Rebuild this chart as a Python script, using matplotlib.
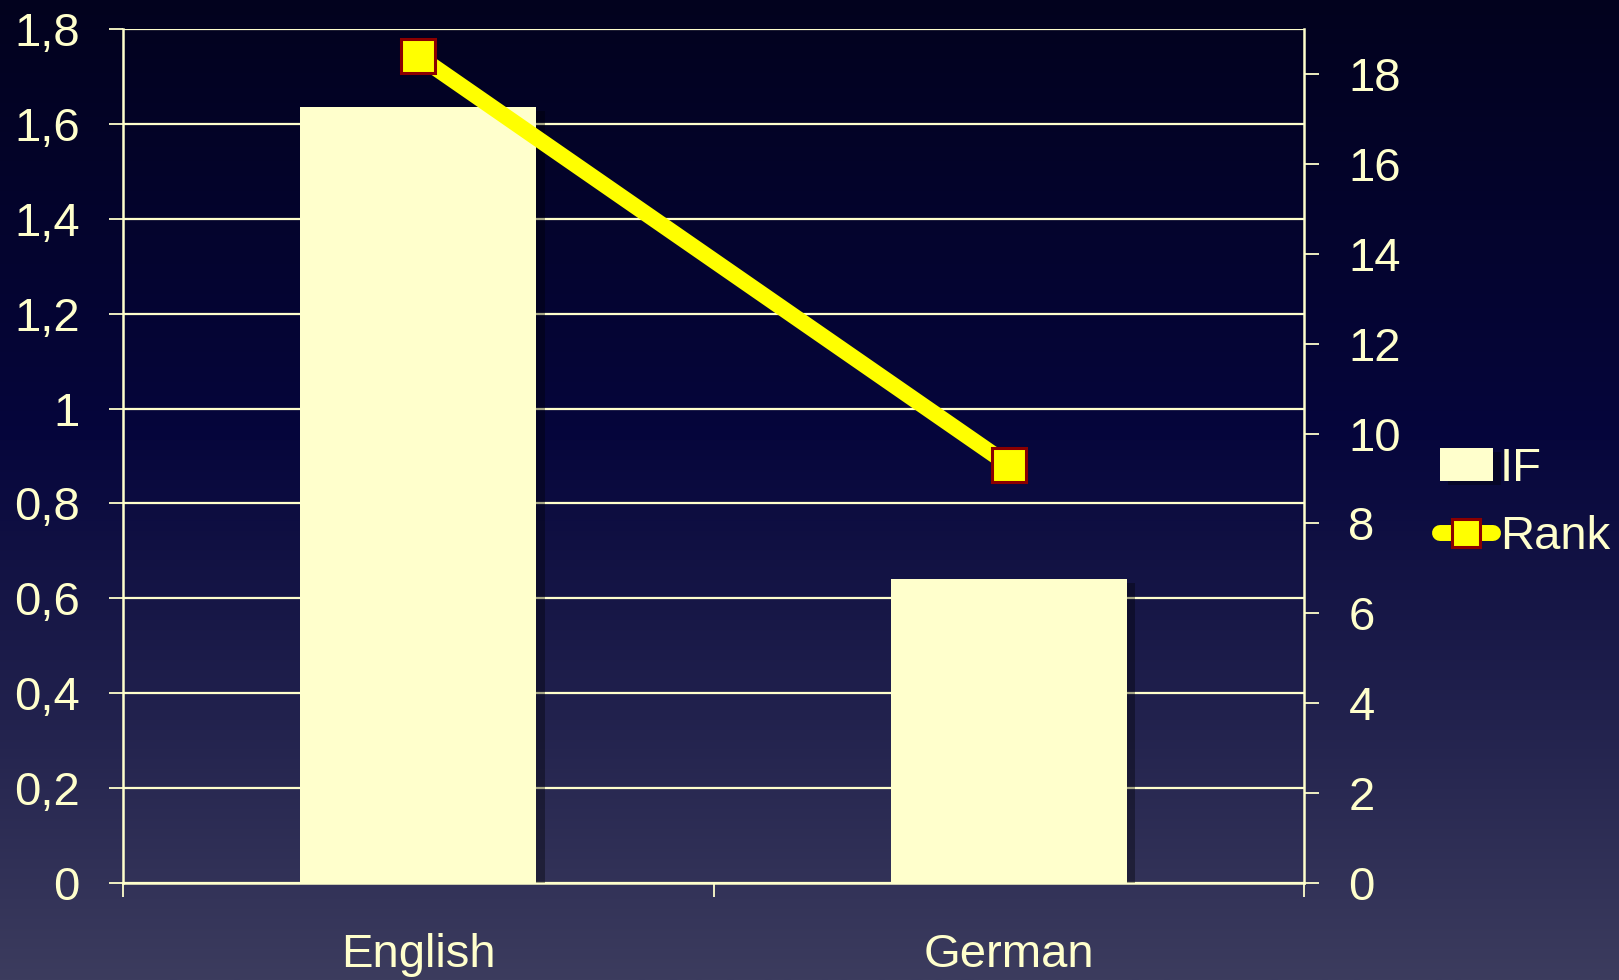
import numpy as np
import matplotlib
matplotlib.use("Agg")
import matplotlib.pyplot as plt
import matplotlib.patheffects as pe
from matplotlib.ticker import FixedLocator, FuncFormatter

categories = ["English", "German"]
if_values = [1.635, 0.641]
rank_values = [18.4, 9.3]
left_ticks = [0, 0.2, 0.4, 0.6, 0.8, 1.0, 1.2, 1.4, 1.6, 1.8]
right_ticks = [0, 2, 4, 6, 8, 10, 12, 14, 16, 18]

CREAM = "#FFFFCC"
YELLOW = "#FFFF00"
DARKRED = "#8B0000"

plt.rcParams['font.family'] = ['Liberation Sans', 'DejaVu Sans']
FS = 34

fig = plt.figure(figsize=(16.19, 9.8), dpi=100)

# background gradient
bg = fig.add_axes([0, 0, 1, 1], zorder=-10)
stops_y = np.array([0.0, 0.45, 1.0])
stops_c = np.array([[2, 2, 30], [6, 6, 60], [60, 60, 94]]) / 255.0
yy = np.linspace(0, 1, 400)
grad = np.stack([np.interp(yy, stops_y, stops_c[:, i]) for i in range(3)], axis=-1)
bg.imshow(grad[:, None, :], aspect='auto', extent=[0, 1, 1, 0])
bg.set_axis_off()

ax = fig.add_axes([123/1619, 1 - 883/980, (1304-123)/1619, (883-29)/980])
ax.patch.set_alpha(0)
x = np.arange(len(categories))
bars = ax.bar(x, if_values, width=0.4, color=CREAM, zorder=3, label="IF")
for b in bars:
    b.set_path_effects([pe.SimplePatchShadow(offset=(6, -3), shadow_rgbFace='black', alpha=0.35), pe.Normal()])

ax.set_xlim(-0.5, len(categories) - 0.5)
ax.set_ylim(0, 1.8)
ax.yaxis.set_major_locator(FixedLocator(left_ticks))
ax.yaxis.set_major_formatter(FuncFormatter(lambda v, p: ("%g" % round(v, 1)).replace(".", ",")))
ax.grid(axis='y', color=CREAM, linewidth=1.6, zorder=1)
ax.set_axisbelow(True)
ax.set_xticks([-0.5, 0.5, 1.5])
ax.set_xticklabels([])
ax.set_xticks(x, minor=True)
ax.set_xticklabels(categories, minor=True)
ax.tick_params(axis='x', which='major', direction='out', length=10, width=1.3, color=CREAM)
ax.tick_params(axis='x', which='minor', length=0, pad=36, labelsize=FS, labelcolor=CREAM)
ax.tick_params(axis='y', direction='out', length=10, width=1.3, color=CREAM, pad=21,
               labelsize=FS, labelcolor=CREAM)
for s in ['left', 'bottom']:
    ax.spines[s].set_color(CREAM)
    ax.spines[s].set_linewidth(1.8)
for s in ['top', 'right']:
    ax.spines[s].set_visible(False)

ax2 = ax.twinx()
ax2.set_ylim(0, 19)
ax2.yaxis.set_major_locator(FixedLocator(right_ticks))
ax2.tick_params(axis='y', direction='out', length=11, width=1.3, color=CREAM, pad=21,
                labelsize=FS, labelcolor=CREAM)
ax2.spines['right'].set_color(CREAM)
ax2.spines['right'].set_linewidth(1.8)
for s in ['left', 'bottom', 'top']:
    ax2.spines[s].set_visible(False)
line, = ax2.plot(x, rank_values, color=YELLOW, linewidth=11.5, marker='s', markersize=25,
                 markerfacecolor=YELLOW, markeredgecolor=DARKRED, markeredgewidth=2.2,
                 solid_capstyle='round', zorder=5, label="Rank")

leg = fig.legend([bars, line], ["IF", "Rank"], loc='center left',
                 bbox_to_anchor=(1440/1619, 1 - 503/980), frameon=False,
                 fontsize=FS, labelcolor=CREAM, handlelength=1.12, handletextpad=0.15,
                 labelspacing=0.52, borderpad=0, borderaxespad=0, markerscale=0.78)

fig.savefig("out.png", dpi=100)
